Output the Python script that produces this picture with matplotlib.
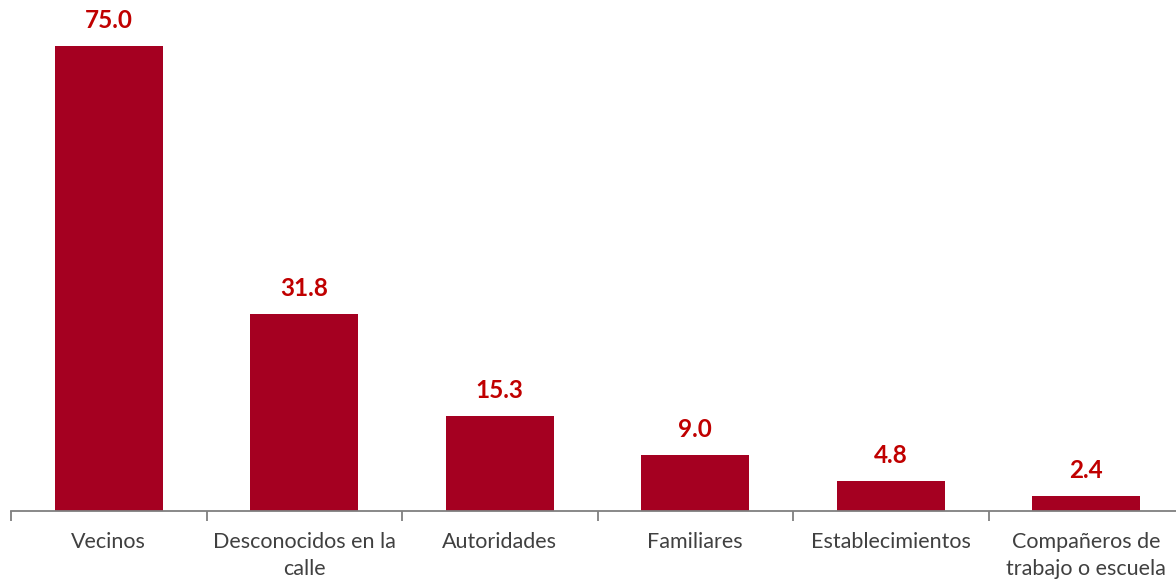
import matplotlib
matplotlib.use("Agg")
import matplotlib.pyplot as plt
import numpy as np

categories = ["Vecinos", "Desconocidos en la\ncalle", "Autoridades", "Familiares",
              "Establecimientos", "Compañeros de\ntrabajo o escuela"]
values = [75.0, 31.8, 15.3, 9.0, 4.8, 2.4]

bar_color = "#A50021"
label_color = "#C00000"
text_color = "#404040"

plt.rcParams['font.family'] = ['Lato', 'DejaVu Sans']

fig = plt.figure(figsize=(11.76, 5.81), dpi=100)
ax = fig.add_axes([11/1176, 70/581, 1173/1176, 511/581])

x = np.arange(len(categories))
bars = ax.bar(x, values, width=0.55, color=bar_color, zorder=2)

ax.set_xlim(-0.5, len(categories) - 0.5)
ax.set_ylim(0, 82.4)

for xi, v in zip(x, values):
    ax.annotate(f"{v:.1f}", (xi, v), xytext=(0, 10), textcoords="offset points",
                ha="center", va="bottom", fontsize=17.5, fontweight="bold", color=label_color)

for s in ["top", "right", "left"]:
    ax.spines[s].set_visible(False)
ax.spines["bottom"].set_color("#7f7f7f")
ax.spines["bottom"].set_linewidth(1.3)
ax.set_yticks([])

ax.set_xticks(x)
ax.set_xticklabels(categories, fontsize=15.5, color=text_color, linespacing=1.45, va="top")
ax.tick_params(axis="x", which="major", length=0, pad=15)
ax.set_xticks(np.arange(-0.5, len(categories), 1.0), minor=True)
ax.tick_params(axis="x", which="minor", length=7, width=1.3, color="#7f7f7f")

fig.savefig("out.png", dpi=100)
